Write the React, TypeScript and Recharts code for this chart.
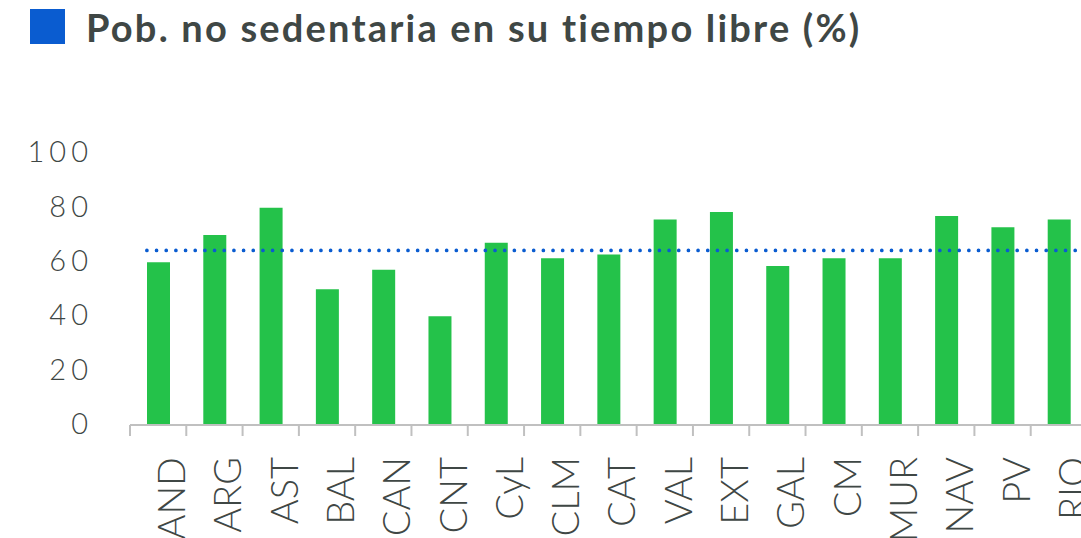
import React from 'react';
import { BarChart, Bar, XAxis, YAxis, ReferenceLine } from 'recharts';

// Regions (abbreviations as shown on the axis)
const regions = ['AND', 'ARG', 'AST', 'BAL', 'CAN', 'CNT', 'CyL', 'CLM', 'CAT', 'VAL', 'EXT', 'GAL', 'CM', 'MUR', 'NAV', 'PV', 'RIO'];
// % of population not sedentary in leisure time
const values = [59.5, 69.5, 79.5, 49.5, 56.7, 39.6, 66.6, 60.9, 62.3, 75.2, 77.9, 58.1, 60.9, 60.9, 76.5, 72.3, 75.2];
const average = 63.8;
const yTicks = [0, 20, 40, 60, 80, 100];
// category boundaries for the little tick marks under the axis
const boundaries = regions.map((_, i) => i).concat(regions.length);

const data = regions.map((r, i) => ({ region: r, value: values[i], pos: i + 0.5 }));

const TEXT = '#3f4745';
const FONT = 'Lato, "Open Sans", sans-serif';

export default function App() {
  return (
    <div style={{ position: 'absolute', left: 0, top: 0, width: 1081, height: 538, overflow: 'hidden', background: '#fff', fontFamily: FONT }}>
      <div style={{ position: 'absolute', left: 30, top: 9, width: 35, height: 35, background: '#0a5cd0' }} />
      <div
        style={{
          position: 'absolute', left: 86, top: 2, fontSize: 38, fontWeight: 700, color: TEXT,
          whiteSpace: 'nowrap', lineHeight: '50px', letterSpacing: 2.2, fontVariantLigatures: 'none',
        }}
      >
        Pob. no sedentaria en su tiempo libre (%)
      </div>
      <div style={{ position: 'absolute', left: 0, top: 0 }}>
        <BarChart width={1100} height={538} data={data} margin={{ top: 152, right: 13, bottom: 0, left: 0 }}>
          <YAxis
            width={130}
            domain={[0, 100]}
            ticks={yTicks}
            axisLine={false}
            tickLine={false}
            tickMargin={31}
            tick={{ fill: TEXT, fontSize: 29, fontFamily: FONT, fontWeight: 300, letterSpacing: 5 }}
          />
          <XAxis
            xAxisId="cat"
            dataKey="region"
            height={1}
            interval={0}
            axisLine={false}
            tickLine={false}
            tickMargin={27}
            angle={-90}
            textAnchor="end"
            tick={{ fill: TEXT, fontSize: 38, fontFamily: FONT, fontWeight: 300 }}
          />
          <XAxis
            xAxisId="grid"
            dataKey="pos"
            type="number"
            domain={[0, regions.length]}
            ticks={boundaries}
            allowDataOverflow
            height={113}
            tickSize={11}
            axisLine={{ stroke: '#c0c0c0', strokeWidth: 2 }}
            tickLine={{ stroke: '#c0c0c0', strokeWidth: 2 }}
            tick={() => <g />}
          />
          <Bar xAxisId="cat" dataKey="value" fill="#24c24a" barSize={23} isAnimationActive={false} />
          <ReferenceLine
            xAxisId="grid"
            ifOverflow="visible"
            segment={[{ x: 0.3, y: average }, { x: regions.length, y: average }]}
            stroke="#0a5cd0"
            strokeWidth={3.7}
            strokeDasharray="0 9.67"
            strokeLinecap="round"
          />
        </BarChart>
      </div>
    </div>
  );
}
